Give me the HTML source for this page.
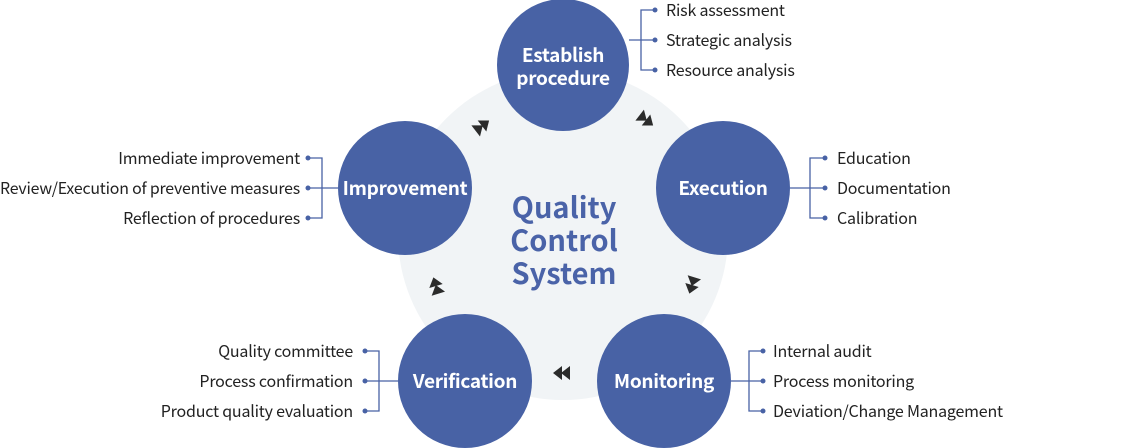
<!DOCTYPE html>
<html><head><meta charset="utf-8"><style>
html,body{margin:0;padding:0;background:#fff;}
svg{display:block;}
text{font-family:"Noto Sans CJK KR","Liberation Sans",sans-serif;}
.l{font-size:16px;fill:#222;letter-spacing:-0.2px;}
.c{font-size:19px;font-weight:bold;fill:#fff;text-anchor:middle;letter-spacing:-0.3px;}
.q{font-size:29px;font-weight:bold;fill:#4a63a8;text-anchor:middle;}
.br{stroke:#4862a5;stroke-width:1.3;fill:none;}
</style></head><body>
<svg width="1122" height="448" viewBox="0 0 1122 448">
<defs>
<g id="da"><polygon points="-8,-7 -8,7 1,0" fill="#2b2b2b"/><polygon points="0,-7 0,7 9,0" fill="#2b2b2b"/></g>
</defs>
<circle cx="563" cy="235" r="165" fill="#f1f4f6"/>
<circle cx="563" cy="65" r="66" fill="#4862a5"/>
<circle cx="723" cy="188" r="67" fill="#4862a5"/>
<circle cx="664" cy="381" r="67" fill="#4862a5"/>
<circle cx="465" cy="381" r="67" fill="#4862a5"/>
<circle cx="405" cy="188" r="67" fill="#4862a5"/>
<text class="c" x="563" y="62">Establish</text>
<text class="c" x="563" y="85">procedure</text>
<text class="c" x="723" y="195">Execution</text>
<text class="c" x="664" y="388">Monitoring</text>
<text class="c" x="465" y="388">Verification</text>
<text class="c" x="405" y="195">Improvement</text>
<text class="q" x="564" y="218">Quality</text>
<text class="q" x="564" y="251">Control</text>
<text class="q" x="564" y="284">System</text>
<use href="#da" transform="translate(646,120) rotate(37.5)"/>
<use href="#da" transform="translate(692,285) rotate(107)"/>
<use href="#da" transform="translate(562,373) rotate(180)"/>
<use href="#da" transform="translate(436,286) rotate(253)"/>
<use href="#da" transform="translate(482,126) rotate(-38)"/>
<path class="br" d="M629,40 H641 M655,10 H641 V70 H655 M641,40 H655"/>
<circle cx="655" cy="10" r="2.5" fill="#4862a5"/><circle cx="655" cy="40" r="2.5" fill="#4862a5"/><circle cx="655" cy="70" r="2.5" fill="#4862a5"/>
<text class="l" x="666" y="16">Risk assessment</text>
<text class="l" x="666" y="46">Strategic analysis</text>
<text class="l" x="666" y="76">Resource analysis</text>
<path class="br" d="M790,188 H810 M825,158 H810 V218 H825 M810,188 H825"/>
<circle cx="825" cy="158" r="2.5" fill="#4862a5"/><circle cx="825" cy="188" r="2.5" fill="#4862a5"/><circle cx="825" cy="218" r="2.5" fill="#4862a5"/>
<text class="l" x="837" y="164">Education</text>
<text class="l" x="837" y="194">Documentation</text>
<text class="l" x="837" y="224">Calibration</text>
<path class="br" d="M731,381 H749 M763,351 H749 V411 H763 M749,381 H763"/>
<circle cx="763" cy="351" r="2.5" fill="#4862a5"/><circle cx="763" cy="381" r="2.5" fill="#4862a5"/><circle cx="763" cy="411" r="2.5" fill="#4862a5"/>
<text class="l" x="773" y="357">Internal audit</text>
<text class="l" x="773" y="387">Process monitoring</text>
<text class="l" x="773" y="417">Deviation/Change Management</text>
<path class="br" d="M398,381 H379 M365,351 H379 V411 H365 M379,381 H365"/>
<circle cx="365" cy="351" r="2.5" fill="#4862a5"/><circle cx="365" cy="381" r="2.5" fill="#4862a5"/><circle cx="365" cy="411" r="2.5" fill="#4862a5"/>
<text class="l" x="353" y="357" text-anchor="end">Quality committee</text>
<text class="l" x="353" y="387" text-anchor="end">Process confirmation</text>
<text class="l" x="353" y="417" text-anchor="end">Product quality evaluation</text>
<path class="br" d="M338,188 H322 M308,158 H322 V218 H308 M322,188 H308"/>
<circle cx="308" cy="158" r="2.5" fill="#4862a5"/><circle cx="308" cy="188" r="2.5" fill="#4862a5"/><circle cx="308" cy="218" r="2.5" fill="#4862a5"/>
<text class="l" x="300" y="164" text-anchor="end">Immediate improvement</text>
<text class="l" x="300" y="194" text-anchor="end" textLength="300" lengthAdjust="spacingAndGlyphs">Review/Execution of preventive measures</text>
<text class="l" x="300" y="224" text-anchor="end">Reflection of procedures</text>
</svg>
</body></html>
